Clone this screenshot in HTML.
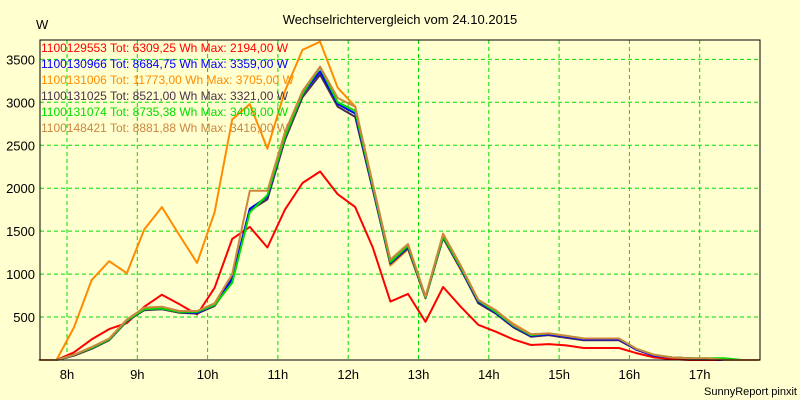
<!DOCTYPE html>
<html><head><meta charset="utf-8"><style>
body{margin:0;background:#ffffd0;}
svg{display:block;font-family:"Liberation Sans",sans-serif;}
</style></head><body>
<svg id="c" width="800" height="400">
<rect width="800" height="400" fill="#ffffd0"/>
<text x="400" y="24" text-anchor="middle" font-size="13">Wechselrichtervergleich vom 24.10.2015</text>
<text x="36" y="29" font-size="13">W</text>
<text x="797" y="395" text-anchor="end" font-size="11">SunnyReport pinxit</text>
<g id="grid"></g><g id="lines"></g><g id="legend"></g>
<rect x="40" y="40" width="720" height="320" fill="none" stroke="#000" stroke-width="1"/>
</svg>
<script>
const times=[7.6,7.85,8.1,8.35,8.6,8.85,9.1,9.35,9.6,9.85,10.1,10.35,10.6,10.85,11.1,11.35,11.6,11.85,12.1,12.35,12.6,12.85,13.1,13.35,13.6,13.85,14.1,14.35,14.6,14.85,15.1,15.35,15.6,15.85,16.1,16.35,16.6,16.85,17.1,17.35,17.6,17.85];
const yTicks=[500,1000,1500,2000,2500,3000,3500];
const xTicks=[8,9,10,11,12,13,14,15,16,17];
const names=["1100129553 Tot: 6309,25 Wh Max: 2194,00 W","1100130966 Tot: 8684,75 Wh Max: 3359,00 W","1100131006 Tot: 11773,00 Wh Max: 3705,00 W","1100131025 Tot: 8521,00 Wh Max: 3321,00 W","1100131074 Tot: 8735,38 Wh Max: 3408,00 W","1100148421 Tot: 8881,88 Wh Max: 3416,00 W"];
const colors=["#ff0000","#0000ff","#ff8c00","#4a304a","#00dd00","#cd853f"];
const sRed=[0,0,90,240,360,430,620,760,650,530,840,1410,1550,1310,1750,2060,2194,1930,1780,1310,680,770,445,850,620,410,330,240,175,185,170,140,140,140,80,30,10,0,0,0,0,0];
const sBlue=[0,0,60,140,240,460,590,600,560,550,640,950,1760,1900,2600,3100,3359,2980,2870,2000,1130,1320,730,1440,1070,680,550,390,280,300,270,240,240,240,120,50,30,20,10,0,0,0];
const sOrange=[0,0,380,930,1150,1010,1520,1780,1450,1130,1720,2800,2980,2460,3130,3610,3705,3170,2950,2000,1100,1290,720,1420,1050,680,570,420,300,300,280,240,240,240,120,50,30,20,10,0,0,0];
const sDark=[0,0,50,130,230,450,580,590,550,540,630,920,1740,1870,2560,3060,3321,2950,2830,1980,1120,1300,720,1420,1060,660,540,380,270,290,260,230,230,230,120,50,30,20,10,0,0,0];
const sGreen=[0,0,60,140,240,460,590,600,560,560,640,900,1720,1920,2600,3100,3408,3000,2900,2020,1140,1330,730,1440,1080,690,560,400,290,310,280,250,250,250,130,60,30,20,20,20,0,0];
const sBrown=[0,0,60,150,250,470,610,620,570,570,660,1000,1970,1970,2650,3130,3416,3050,2950,2050,1170,1350,740,1470,1100,700,580,410,300,310,280,250,250,250,130,60,30,20,20,0,0,0];
const series=[sRed,sBlue,sOrange,sDark,sGreen,sBrown];
const order=[2,0,3,1,4,5];
const X=h=>67+(h-8)*70.3, Y=v=>360-v*0.0859;
const NS="http://www.w3.org/2000/svg";
const grid=document.getElementById('grid'),svg=document.getElementById('c');
function mk(tag,at,parent){const e=document.createElementNS(NS,tag);for(const k in at)e.setAttribute(k,at[k]);parent.appendChild(e);return e;}
yTicks.forEach(v=>{
 const l=mk('line',{x1:40,x2:760,y1:Y(v),y2:Y(v),stroke:'#00dd00','stroke-dasharray':'4,3'},grid);
 
 
 const t=mk('text',{x:35,y:Y(v)+5,'text-anchor':'end','font-size':13},svg);
 t.textContent=v;
 
 
});
xTicks.forEach(h=>{
 const l=mk('line',{x1:X(h),x2:X(h),y1:40,y2:360,stroke:'#00dd00','stroke-dasharray':'4,3'},grid);
 
 
 const t=mk('text',{x:X(h),y:379,'text-anchor':'middle','font-size':13},svg);
 t.textContent=h+'h';
 
 
});
const lines=document.getElementById('lines');
order.forEach(i=>{
 const pts=series[i].map((v,j)=>X(times[j]).toFixed(1)+','+Y(v).toFixed(1)).join(' ');
 const p=mk('polyline',{points:pts,fill:'none',stroke:colors[i],'stroke-width':2,'stroke-linejoin':'round'},lines);
 
 
});
const lg=document.getElementById('legend');
names.forEach((n,i)=>{
 const t=mk('text',{x:41,y:52+i*16,'font-size':12,fill:colors[i]},lg);
 t.textContent=n;
 
 
});
</script>
</body></html>
